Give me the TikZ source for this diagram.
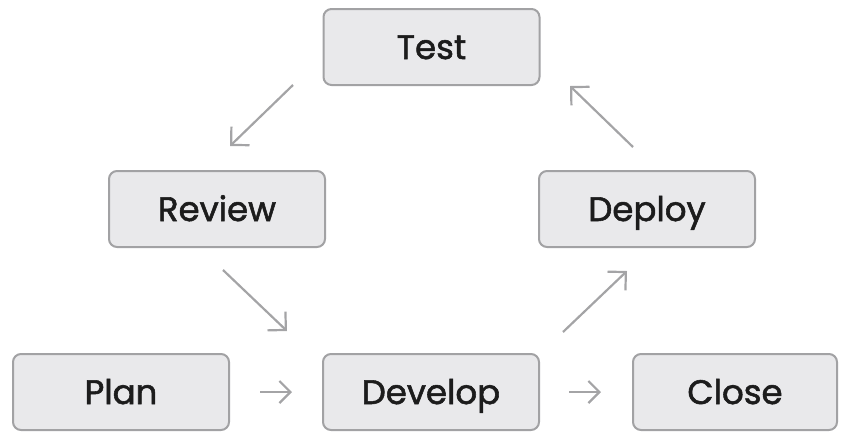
\documentclass[tikz,border=0pt]{standalone}
\usepackage{fontspec}
\newfontfamily\boxfont{Poppins}[FakeBold=1.6]
\usetikzlibrary{arrows.meta}
\definecolor{boxfill}{HTML}{E9E9EB}
\definecolor{boxline}{HTML}{A2A2A4}
\definecolor{arrowc}{HTML}{A4A4A6}
\definecolor{txt}{HTML}{1C1C1C}
\tikzset{
  stage/.style={draw=boxline, fill=boxfill, line width=2pt, rounded corners=8pt,
    minimum width=216pt, minimum height=76pt, inner sep=0pt, text=txt,
    text height=24pt, text depth=0pt,
    font=\boxfont\fontsize{34}{40}\selectfont},
  flow/.style={draw=arrowc, line width=2.2pt, -{Straight Barb[length=13pt,width=26pt,line cap=butt]}},
  flowshort/.style={flow, -{Straight Barb[length=11pt,width=22pt,line cap=butt]}},
}
\begin{document}
\begin{tikzpicture}[x=1pt,y=-1pt]
\useasboundingbox (0,0) rectangle (841,432);
\node[stage] (test) at (431.5,47) {Test};
\node[stage] (review) at (217,209) {Review};
\node[stage] (deploy) at (647,209) {Deploy};
\node[stage] (plan) at (121,392) {Plan};
\node[stage] (develop) at (431,392) {Develop};
\node[stage, minimum width=204pt] (close) at (735,392) {Close};
\coordinate (a1s) at (293,85);
\coordinate (a1e) at (230,146);
\coordinate (a2s) at (223,270);
\coordinate (a2e) at (287,331);
\coordinate (a3s) at (563,332);
\coordinate (a3e) at (627,271);
\coordinate (a4s) at (633,147);
\coordinate (a4e) at (570,86);
\draw[flow] (a1s) -- (a1e);
\draw[flow] (a2s) -- (a2e);
\draw[flow] (a3s) -- (a3e);
\draw[flow] (a4s) -- (a4e);
\draw[flowshort, shorten <=30pt, shorten >=30pt] (plan) -- (develop);
\draw[flowshort, shorten <=29pt, shorten >=31pt] (develop) -- (close);
\end{tikzpicture}
\end{document}
